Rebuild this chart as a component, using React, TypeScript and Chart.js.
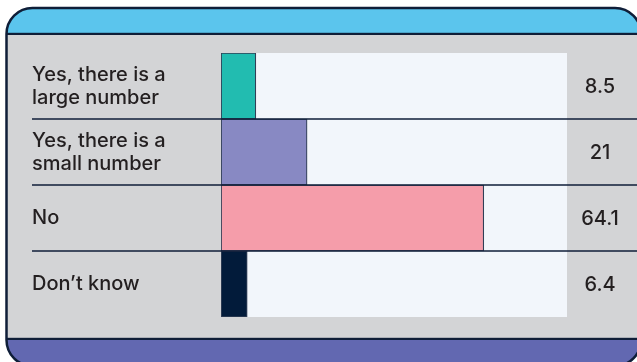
import React, { useEffect, useRef } from "react";
import { Chart, registerables } from "chart.js";

Chart.register(...registerables);

const categories: string[][] = [
  ["Yes, there is a", "large number"],
  ["Yes, there is a", "small number"],
  ["No"],
  ["Don’t know"],
];
const values: number[] = [8.5, 21, 64.1, 6.4];
const valueLabels: string[] = ["8.5", "21", "64.1", "6.4"];
const barColors: string[] = ["#22BCB0", "#8889C3", "#F59DAA", "#021B3A"];
const axisMax = 84.4;

const FONT = "Inter, 'Noto Sans', sans-serif";
const NAVY = "#0F1E38";
const TEXT = "#231F20";

const framePlugin = {
  id: "frame",
  beforeDraw(chart: any) {
    const ctx = chart.ctx as CanvasRenderingContext2D;
    const w = chart.width;
    const x0 = 6.5, y0 = 8, x1 = w + 4, y1 = 366, r = 26;
    ctx.save();
    ctx.beginPath();
    (ctx as any).roundRect(x0, y0, x1 - x0, y1 - y0, r);
    ctx.fillStyle = "#D3D4D6";
    ctx.fill();
    ctx.save();
    ctx.clip();
    ctx.fillStyle = "#5BC5ED";
    ctx.fillRect(0, 0, w, 34);
    ctx.fillStyle = "#6268B1";
    ctx.fillRect(0, 339, w, 40);
    ctx.fillStyle = NAVY;
    ctx.fillRect(0, 32.8, w, 2.2);
    ctx.fillRect(0, 337.8, w, 2.2);
    ctx.restore();
    ctx.lineWidth = 2.5;
    ctx.strokeStyle = NAVY;
    ctx.stroke();
    ctx.restore();
  },
  beforeDatasetsDraw(chart: any) {
    const { ctx, chartArea } = chart;
    ctx.save();
    ctx.fillStyle = "#F2F6FB";
    ctx.fillRect(chartArea.left, chartArea.top, chartArea.right - chartArea.left, chartArea.bottom - chartArea.top);
    ctx.restore();
  },
  afterDatasetsDraw(chart: any) {
    const ctx = chart.ctx as CanvasRenderingContext2D;
    const y = chart.scales.y;
    const w = chart.width;
    ctx.save();
    ctx.strokeStyle = NAVY;
    ctx.lineWidth = 1.6;
    for (let i = 1; i < categories.length; i++) {
      const yy = (y.getPixelForValue(i - 1) + y.getPixelForValue(i)) / 2;
      ctx.beginPath();
      ctx.moveTo(32, yy);
      ctx.lineTo(w, yy);
      ctx.stroke();
    }
    ctx.fillStyle = TEXT;
    ctx.font = `500 20px ${FONT}`;
    ctx.textAlign = "center";
    ctx.textBaseline = "middle";
    const cx = 600;
    for (let i = 0; i < valueLabels.length; i++) {
      ctx.fillText(valueLabels[i], cx, y.getPixelForValue(i) + 1);
    }
    ctx.restore();
  },
};

export default function App() {
  const ref = useRef<HTMLCanvasElement | null>(null);
  useEffect(() => {
    if (!ref.current) return;
    const chart = new Chart(ref.current, {
      type: "bar",
      data: {
        labels: categories as any,
        datasets: [
          {
            data: values,
            backgroundColor: barColors,
            borderColor: "rgba(15,30,56,0.85)",
            borderWidth: 1.2,
            borderSkipped: false,
            barPercentage: 1,
            categoryPercentage: 1,
          },
        ],
      },
      options: {
        indexAxis: "y",
        animation: false,
        responsive: true,
        maintainAspectRatio: false,
        layout: { padding: { left: 32, right: 70, top: 53, bottom: 45 } },
        plugins: { legend: { display: false }, tooltip: { enabled: false } },
        scales: {
          x: { display: false, min: 0, max: axisMax },
          y: {
            grid: { display: false },
            border: { display: false },
            ticks: {
              crossAlign: "far",
              padding: 0,
              color: TEXT,
              font: { family: FONT, size: 20, weight: 500, lineHeight: 1.15 },
            },
            afterFit(scale: any) {
              scale.width = 189;
            },
          },
        },
      },
      plugins: [framePlugin],
    });
    return () => chart.destroy();
  }, []);
  return (
    <div style={{ position: "fixed", left: 0, top: 0, width: 637, height: 362, background: "#fff" }}>
      <canvas ref={ref} />
    </div>
  );
}
